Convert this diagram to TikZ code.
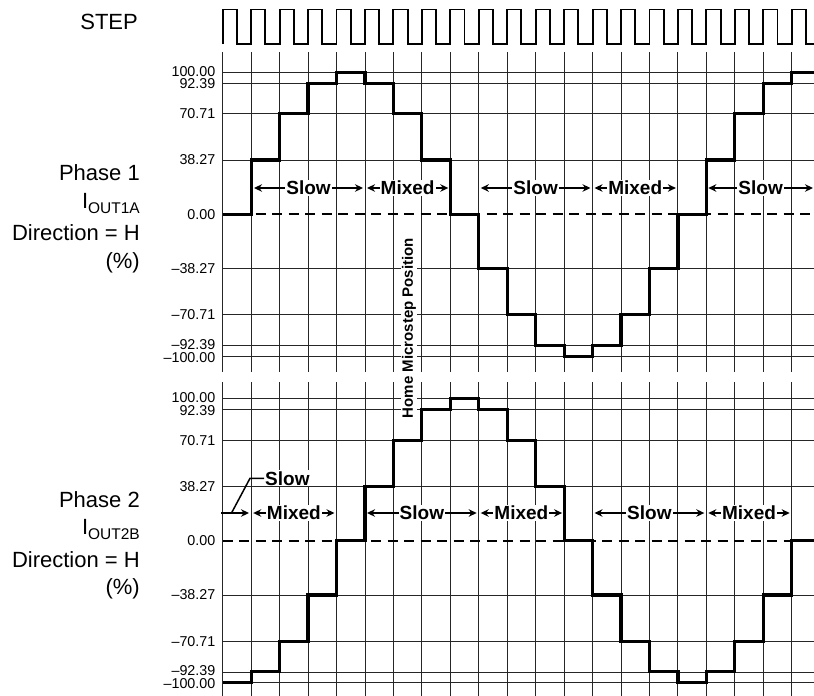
\documentclass[tikz,border=0pt]{standalone}
\usepackage{fontspec}
\setmainfont{Liberation Sans}
\usetikzlibrary{arrows.meta}
\newcommand{\lowsub}[1]{\raisebox{-5.5pt}{\fontsize{15.5}{16}\selectfont #1}}
\begin{document}
\begin{tikzpicture}[x=1pt,y=-1pt]
            \tikzstyle{gridline}=[draw=black!85,line width=0.9pt]
            \tikzstyle{zeroline}=[draw=black,line width=1.8pt,dash pattern=on 10pt off 6.5pt]
            \tikzstyle{wave}=[draw=black,line width=3.2pt]
            \tikzstyle{pulse}=[draw=black,line width=1.9pt]
            \tikzstyle{sidetext}=[anchor=base east,inner sep=0pt,font=\fontsize{22}{25}\selectfont]
            \tikzstyle{tickmark}=[anchor=east,inner sep=0pt,font=\fontsize{14.3}{15}\selectfont]
            \tikzstyle{modetext}=[fill=white,inner sep=1pt,font=\fontsize{19}{22}\selectfont\bfseries]
            \tikzstyle{spanarrow}=[draw,line width=1.5pt,{Stealth[length=8pt,width=7.5pt]}-{Stealth[length=8pt,width=7.5pt]}]
            \tikzstyle{pointer}=[draw,line width=1.5pt,-{Stealth[length=8pt,width=7.5pt]}]
            \tikzstyle{leader}=[draw,line width=1.5pt]
            \useasboundingbox (0,0) rectangle (814,696);
            \clip (0,0) rectangle (814,696);
            % grid of both phases
            \foreach \i in {0,...,20} {
               \draw[gridline] ({222.7+28.45*\i},52) -- ({222.7+28.45*\i},372);
               \draw[gridline] ({222.7+28.45*\i},382) -- ({222.7+28.45*\i},696);
            }
            \foreach \z/\p in {214.3/1,540.7/2} {
               \foreach \v/\t/\n [count=\c] in {100/100.00/-0.9,92.39/92.39/0.9,70.71/70.71/0,38.27/38.27/0,-38.27/\textendash38.27/0,-70.71/\textendash70.71/0,-92.39/\textendash92.39/-0.9,-100/\textendash100.00/0.9} {
                  \node[tickmark] (tk\p\c) at (215.5,{\z-1.42*\v+\n}) {\t};
                  \draw[gridline,line width=0.8pt] (222.7,{\z-1.42*\v}) -- (814,{\z-1.42*\v});
               }
               \node[tickmark] (tk\p0) at (215.5,\z) {0.00};
               \draw[zeroline] (222.7,\z) -- (814,\z);
            }
            % step clock
            \draw[pulse] (222.7,44) \foreach \i in {0,...,20} { -- ({222.7+28.45*\i},9.5) -- ({236.9+28.45*\i},9.5) -- ({236.9+28.45*\i},44) -- ({251.15+28.45*\i},44) };
            % phase currents
            \draw[wave] (222.7,214.3) \foreach \k in {1,...,20} { -- ({222.7+28.45*\k},{214.3-142*sin(22.5*(\k-1))}) -- ({222.7+28.45*\k},{214.3-142*sin(22.5*\k)}) } -- (814,72.3);
            \draw[wave] (222.7,682.7) \foreach \k in {1,...,20} { -- ({222.7+28.45*\k},{540.7+142*cos(22.5*(\k-1))}) -- ({222.7+28.45*\k},{540.7+142*cos(22.5*\k)}) } -- (814,540.7);
            % left titles
            \node[sidetext] (step) at (138,29.5) {STEP};
            \node[sidetext] (ph1) at (140,180.6) {Phase 1};
            \node[sidetext] (io1) at (140,208) {I\lowsub{OUT1A}};
            \node[sidetext] (dir1) at (140,240.6) {Direction = H};
            \node[sidetext] (pct1) at (140,268) {(\%)};
            \node[sidetext] (ph2) at (140,507) {Phase 2};
            \node[sidetext] (io2) at (140,534.4) {I\lowsub{OUT2B}};
            \node[sidetext] (dir2) at (140,567) {Direction = H};
            \node[sidetext] (pct2) at (140,594.4) {(\%)};
            % decay modes
            \foreach \a/\b/\y/\t [count=\c] in {254/363/188/Slow,367/448.3/188/Mixed,480.8/590.5/188/Slow,594.5/675.9/188/Mixed,708.3/813/188/Slow,253.2/334.5/513/Mixed,367/476.7/513/Slow,480.7/562.1/513/Mixed,594.5/704.3/513/Slow,708.3/789.7/513/Mixed} {
               \coordinate (ml\c) at (\a,\y);
               \coordinate (mr\c) at (\b,\y);
               \path[spanarrow] (ml\c) -- node[modetext] (md\c) {\t} (mr\c);
            }
            \coordinate (sl0) at (221,513);
            \coordinate (sl1) at (249,513);
            \coordinate (sk0) at (231.5,513);
            \coordinate (sk1) at (250,478.3);
            \node[modetext,anchor=west] (slow0) at (264,478.3) {Slow};
            \path[pointer] (sl0) -- (sl1);
            \path[leader] (sk0) -- (sk1) -- (slow0.west);
            \node[modetext,font=\fontsize{15}{17}\selectfont\bfseries,rotate=90] (home) at (409,328) {Home Microstep Position};
        \end{tikzpicture}
\end{document}
